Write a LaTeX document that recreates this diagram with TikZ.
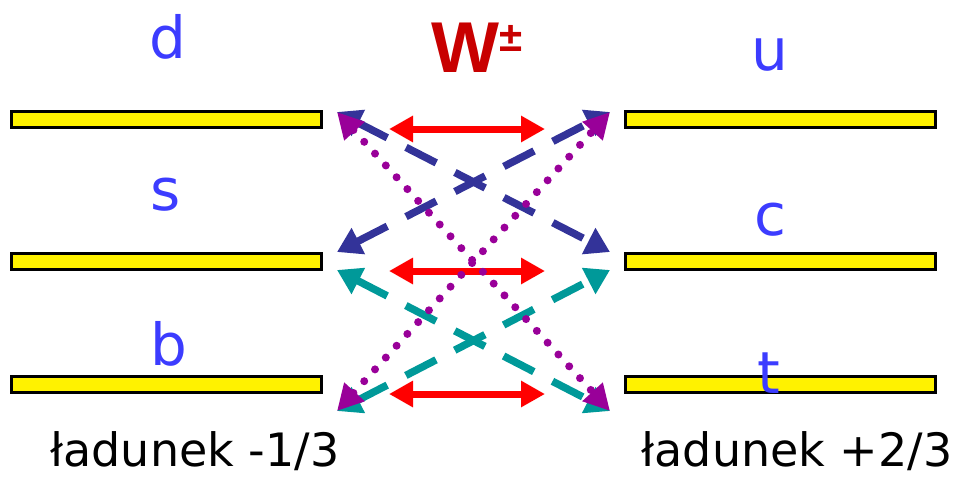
\documentclass[tikz,border=0pt]{standalone}
\usepackage{fontspec}
\setmainfont{DejaVu Sans}
\newfontfamily\bosonfont{Liberation Sans}
\usetikzlibrary{arrows.meta}

\definecolor{quarkblue}{RGB}{60,60,255}
\definecolor{wred}{RGB}{200,0,0}
\definecolor{mixblue}{RGB}{51,51,153}
\definecolor{mixteal}{RGB}{0,153,153}
\definecolor{mixpurple}{RGB}{153,0,153}

\tikzset{
  level/.style={draw=black, line width=3pt, fill=yellow, minimum width=310pt,
    minimum height=16pt, inner sep=0pt},
  quark/.style={text=quarkblue, font=\fontsize{58}{58}\selectfont, anchor=base, inner sep=0pt},
  charge/.style={font=\fontsize{46}{46}\selectfont, anchor=base, inner sep=0pt},
  wline/.style={draw=red, line width=7pt, {Triangle[length=24pt,width=25pt]}-{Triangle[length=24pt,width=25pt]}},
  mixline/.style={line width=7.5pt, dash pattern=on 34pt off 21pt,
    {Triangle[length=24pt,width=28pt]}-{Triangle[length=24pt,width=28pt]}},
  dotline/.style={draw=mixpurple, line width=8pt, line cap=round, dash pattern=on 0pt off 16pt,
    {Triangle[length=26pt,width=26pt]}-{Triangle[length=26pt,width=26pt]}}
}

\begin{document}
\begin{tikzpicture}[x=1pt,y=-1pt]
    \useasboundingbox (0,0) rectangle (957,477);

    % energy levels
    \node [level] (dbar) at (166.5,119.5) {};
    \node [level] (sbar) at (166.5,261.5) {};
    \node [level] (bbar) at (166.5,384.5) {};
    \node [level] (ubar) at (780.5,119.5) {};
    \node [level] (cbar) at (780.5,261.5) {};
    \node [level] (tbar) at (780.5,384.5) {};

    % quark names
    \node [quark] (d) at (168,58) {d};
    \node [quark] (s) at (166,210) {s};
    \node [quark] (b) at (169,365) {b};
    \node [quark] (u) at (770,70) {u};
    \node [quark] (c) at (770,235) {c};
    \node [quark] (t) at (769,393) {t};

    \node [charge] (qdown) at (195,466) {ładunek -1/3};
    \node [charge] (qup) at (797,466) {ładunek +2/3};

    \node [anchor=base, inner sep=0pt, text=wred, font=\bosonfont\bfseries\fontsize{72}{72}\selectfont]
      (W) at (477,72) {W\raisebox{21pt}{\fontsize{42}{42}\selectfont ±}};

    % arrow ends
    \coordinate (tl) at (337,112);
    \coordinate (tr) at (610,112);
    \coordinate (ml) at (337,252);
    \coordinate (mr) at (610,252);
    \coordinate (nl) at (337,270);
    \coordinate (nr) at (610,270);
    \coordinate (bl) at (337,411);
    \coordinate (br) at (610,411);
    \coordinate (w1l) at (389,129);
    \coordinate (w1r) at (545,129);
    \coordinate (w2l) at (389,271);
    \coordinate (w2r) at (545,271);
    \coordinate (w3l) at (389,394);
    \coordinate (w3r) at (545,394);

    \draw [wline] (w1l) -- (w1r);
    \draw [wline] (w2l) -- (w2r);
    \draw [wline] (w3l) -- (w3r);

    \draw [mixline, draw=mixblue] (tl) -- (mr);
    \draw [mixline, draw=mixblue] (ml) -- (tr);
    \draw [mixline, draw=mixteal] (nl) -- (br);
    \draw [mixline, draw=mixteal] (bl) -- (nr);

    \draw [dotline] (tl) -- (br);
    \draw [dotline] (bl) -- (tr);
\end{tikzpicture}
\end{document}
